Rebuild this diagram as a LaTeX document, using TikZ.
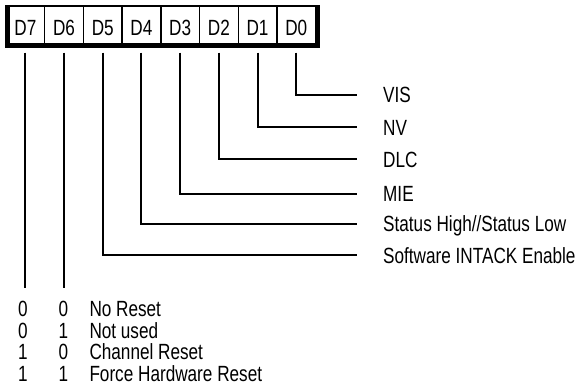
\documentclass[tikz,border=0pt]{standalone}
\usepackage{fontspec}
\setmainfont{Liberation Sans}[FakeStretch=0.78]
\begin{document}
\begin{tikzpicture}[x=1pt,y=-1pt,
  txt/.style={font=\fontsize{22}{26}\selectfont, inner sep=0pt},
  cell/.style={txt, draw, line width=1.4pt, minimum width=38.7pt, minimum height=39.5pt, text height=19pt, text depth=0pt},
  lab/.style={txt, anchor=base west},
  bit/.style={txt, anchor=base},
  conn/.style={line width=2pt},
  frame/.style={line width=5pt}]
\useasboundingbox (0,0) rectangle (578,389);
% register cells
\node[cell] (c7) at (25.35,25.75) {D7};
\node[cell] (c6) at (64.05,25.75) {D6};
\node[cell] (c5) at (102.75,25.75) {D5};
\node[cell] (c4) at (141.45,25.75) {D4};
\node[cell] (c3) at (180.15,25.75) {D3};
\node[cell] (c2) at (218.85,25.75) {D2};
\node[cell] (c1) at (257.55,25.75) {D1};
\node[cell] (c0) at (296.25,25.75) {D0};
% thick frame
\draw[frame] (7.5,6) -- (7.5,45.5) -- (317.5,45.5) -- (317.5,6);
\draw[line width=2.5pt] (5,6) -- (320,6);
% right labels
\node[lab] (vis)  at (383,102.7) {VIS};
\node[lab] (nv)   at (383,135.3) {NV};
\node[lab] (dlc)  at (383,167.3) {DLC};
\node[lab] (mie)  at (383,201.5) {MIE};
\node[lab] (stat) at (383,231.5) {Status High//Status Low};
\node[lab] (soft) at (383,263.2) {Software INTACK Enable};
% connectors
\draw[conn] ([yshift=-6.5pt]c0.south) |- ([xshift=-26.3pt,yshift=8pt]vis.base west);
\draw[conn] ([yshift=-6.5pt]c1.south) |- ([xshift=-26.3pt,yshift=8pt]nv.base west);
\draw[conn] ([yshift=-6.5pt]c2.south) |- ([xshift=-26.3pt,yshift=8pt]dlc.base west);
\draw[conn] ([yshift=-6.5pt]c3.south) |- ([xshift=-26.3pt,yshift=8pt]mie.base west);
\draw[conn] ([yshift=-6.5pt]c4.south) |- ([xshift=-26.3pt,yshift=8pt]stat.base west);
\draw[conn] ([yshift=-6.5pt]c5.south) |- ([xshift=-26.3pt,yshift=8pt]soft.base west);
\coordinate (r7) at (25.35,288.3);
\coordinate (r6) at (64.05,288.3);
\draw[conn] ([yshift=-6.5pt]c7.south) -- (r7);
\draw[conn] ([yshift=-6.5pt]c6.south) -- (r6);
% legend
\node[bit] (a1) at (22.8,316.5) {0};
\node[bit] (b1) at (63.3,316.5) {0};
\node[lab] (t1) at (89.3,316.5) {No Reset};
\node[bit] (a2) at (22.8,338) {0};
\node[bit] (b2) at (63.3,338) {1};
\node[lab] (t2) at (89.3,338) {Not used};
\node[bit] (a3) at (22.8,359.5) {1};
\node[bit] (b3) at (63.3,359.5) {0};
\node[lab] (t3) at (89.3,359.5) {Channel Reset};
\node[bit] (a4) at (22.8,381) {1};
\node[bit] (b4) at (63.3,381) {1};
\node[lab] (t4) at (89.3,381) {Force Hardware Reset};
\end{tikzpicture}
\end{document}
